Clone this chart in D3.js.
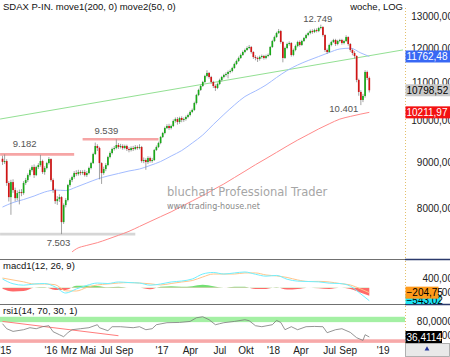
<!DOCTYPE html>
<html>
<head>
<meta charset="utf-8">
<script src="https://cdn.jsdelivr.net/npm/d3@7/dist/d3.min.js"></script>
<style>
html,body{margin:0;padding:0;background:#fff;overflow:hidden;}
svg{display:block;font-family:"Liberation Sans",Arial,sans-serif;}
</style>
</head>
<body>
<svg id="chart" width="450" height="357"></svg>
<script>
// ================= DATA =================
const firstDate = "2015-07-24";   // first weekly candle (Friday)
const firstOpen = 9080;
const closes = [
 9010,9028,8540,8240,8560,8389,8220,8325,8347,8325,
 8540,8604,8713,8825,8892,8713,8892,8937,9028,8780,
 8870,8982,9074,8604,8389,8158,8200,8241,7736,8076,
 8179,8496,8604,8669,8758,8735,8780,8758,8780,8713,
 8758,8870,8982,9189,9378,9330,8982,8758,8847,8937,
 9120,9213,9307,9330,9402,9354,9378,9330,9378,9307,
 9283,9330,9307,9354,9330,9354,9028,9051,9005,9097,
 9028,9051,9283,9354,9449,9594,9692,9815,9865,9815,
 9865,9991,10041,9966,10067,10016,10041,10093,10144,10222,
 10274,10456,10671,10807,10916,11028,11197,11282,11168,11028,
 10916,10862,10972,11084,11168,11225,11253,11310,11339,11425,
 11541,11630,11718,11807,11897,11957,12018,12049,11897,11747,
 11718,11688,11747,11777,11718,11777,11807,12049,12232,12356,
 12482,12545,12202,11718,12018,12140,12171,11807,11957,12079,
 12202,12110,12232,12325,12419,12482,12545,12514,12577,12545,
 12641,12673,12419,11957,11897,12110,12202,12263,12140,12232,
 12263,12171,12232,12356,12140,11957,11867,11777,11084,10752,
 10537,10644,11310,11140,10798.52
];
const highs = [
 9150,9182,9070,8580,8610,8620,8440,8380,8400,8410,
 8580,8650,8750,8860,8930,8950,8920,8980,9170,9060,
 8910,9010,9120,9090,8640,8420,8260,8300,8260,8110,
 8220,8520,8640,8700,8800,8820,8830,8820,8820,8830,
 8800,8900,9010,9220,9460,9420,9360,9000,8900,8980,
 9150,9250,9340,9380,9539,9450,9430,9420,9410,9410,
 9350,9370,9380,9400,9390,9420,9380,9110,9090,9140,
 9130,9100,9310,9390,9480,9620,9720,9850,9910,9920,
 9900,10030,10080,10090,10100,10110,10080,10130,10180,10260,
 10310,10490,10700,10840,10950,11060,11230,11360,11310,11200,
 11060,10960,11010,11120,11200,11260,11300,11350,11380,11460,
 11580,11670,11760,11850,11940,12000,12070,12110,12080,11920,
 11800,11760,11790,11820,11810,11820,11850,12080,12270,12400,
 12520,12610,12580,12230,12060,12180,12220,12200,12000,12120,
 12240,12250,12270,12360,12460,12520,12590,12600,12620,12630,
 12680,12749,12700,12440,12000,12150,12240,12300,12300,12270,
 12300,12300,12270,12410,12380,12170,12000,11920,11800,11120,
 10800,10700,11360,11350,11180
];
const lows = [
 8940,8960,8480,8150,7880,8330,8150,8170,8090,8260,
 8290,8500,8560,8680,8790,8650,8690,8850,8900,8740,
 8720,8840,8950,8570,8330,8100,8080,8140,7503,7700,
 8030,8150,8460,8560,8630,8690,8700,8710,8720,8680,
 8670,8730,8840,8960,9170,9260,8620,8520,8720,8800,
 8910,9090,9180,9270,9300,9310,9320,9290,9300,9260,
 9230,9250,9260,9280,9290,9300,8990,8980,8830,8960,
 8990,8990,9030,9260,9330,9420,9570,9660,9790,9770,
 9780,9840,9950,9900,9920,9960,9970,10000,10060,10110,
 10190,10250,10420,10640,10780,10890,11000,11160,11120,10980,
 10860,10780,10830,10940,11040,11130,11180,11130,11270,11300,
 11400,11510,11600,11690,11780,11860,11930,11980,11850,11690,
 11650,11600,11640,11700,11670,11680,11740,11780,12020,12200,
 12330,12450,12150,11590,11690,11980,12090,11760,11770,11920,
 12040,12060,12080,12200,12290,12380,12440,12460,12480,12500,
 12510,12600,12370,11900,11840,11870,12070,12170,12080,12100,
 12190,12120,12130,12200,12090,11900,11800,11700,11020,10650,
 10401,10480,10600,11080,10740
];
// moving averages, read at candle indices
const maIdx = [0,5,10,15,20,25,30,35,40,45,50,55,60,65,70,75,80,85,90,95,100,105,110,115,120,125,130,135,140,145,150,155,160,165,170,174];
const ma50 = [8036,8128,8190,8263,8347,8389,8379,8453,8540,8627,8693,8748,8804,8848,8927,9017,9143,9271,9449,9643,9902,10156,10403,10629,10778,10943,11153,11352,11512,11643,11762,11882,11988,12012,11867,11762.48];
const ma200Idx = [33,35,40,45,50,55,60,65,70,75,80,85,90,95,100,105,110,115,120,125,130,135,140,145,150,155,160,165,170,174];
const ma200 = [7174,7229,7293,7343,7410,7481,7557,7651,7747,7843,7939,8050,8161,8272,8397,8519,8658,8799,8945,9084,9228,9376,9520,9655,9793,9920,10038,10107,10168,10211.97];
// MACD (12,26,9) read at maIdx
const macdLine   = [370,170,110,160,180,35,-220,-50,100,200,180,245,220,200,110,160,245,285,370,580,645,580,625,665,570,490,520,360,280,265,250,195,180,70,-260,-543.02];
const signalLine = [410,330,250,160,160,130,-130,-135,15,120,160,200,220,200,170,120,180,245,305,455,580,580,580,625,625,540,500,435,330,265,270,245,180,120,-50,-204.75];
// RSI (14)
const rsiIdx  = [0,2,5,10,13,16,19,22,24,27,29,31,33,37,41,45,46,50,52,56,62,65,68,71,73,78,84,89,92,95,98,101,103,105,110,115,117,120,123,128,130,132,134,137,140,144,148,152,154,158,161,165,168,171,172,174];
const rsiVals = [73.6,59.6,52.1,56.8,62.4,59.6,65.2,68,51.2,42.8,37.2,48.4,56.8,59.6,62.4,70.8,62.4,54,65.2,65.2,62.4,65.2,56.8,59.6,70.8,76.4,77.2,80,90.3,93.1,84.8,70.8,73.6,76.4,80,84.8,82,68,65.2,70.8,82.8,77.2,56.8,65.2,56.8,65.2,66,65.2,48.4,56.8,59.6,49.3,34.4,26.9,42.8,36.4114];
const rsiTrendIdx = [0,55];
const rsiTrendVals = [80,40];
const rsiUpperZone = [78,93];
const rsiLowerZone = [20,30];
// drawn trend line and horizontal levels
const trendDates = ["2015-07-16","2019-03-15"];
const trendVals = [10040,11960];
const levelVals  = [9182,9539,7503];
const levelFrom  = ["2015-07-16","2016-04-15","2015-07-16"];
const levelTo    = ["2016-03-18","2016-12-23","2016-10-07"];
// annotations
const annoText  = ["9.182","9.539","7.503","12.749","10.401"];
const annoIdx   = [1,54,28,151,170];
const annoVals  = [9182,9539,7503,12749,10401];
// axis ticks
const priceTicks = [13000,12000,11000,10000,9000,8000];
const macdTicks = [400,-200];
const rsiTicks = [80,40];
const xTickDates  = ["2015-08-01","2016-01-01","2016-03-01","2016-05-03","2016-07-02","2016-09-01","2017-01-04","2017-04-08","2017-07-15","2017-10-10","2018-01-09","2018-04-10","2018-07-14","2018-09-14","2019-01-08"];
const xTickLabels = ["'15","'16","Mrz","Mai","Jul","Sep","'17","Apr","Jul","Okt","'18","Apr","Jul","Sep","'19"];

// ================= CHART =================
const svg = d3.select("#chart");
const parse = d3.timeParse("%Y-%m-%d");
const start = parse(firstDate);
const dates = closes.map((_, i) => d3.timeDay.offset(start, 7 * i));
const plotR = 405;
const M = {top: 0, bot: 259}, MC = {top: 260, bot: 304}, RS = {top: 305, bot: 343};

const x = d3.scaleTime().domain([dates[0], dates[dates.length - 1]]).range([2.5, 369.3]);
const y = d3.scaleLog().domain([7046, 13570]).range([M.bot, M.top]);
const yM = d3.scaleLinear().domain([-682, 1170]).range([MC.bot, MC.top]);
const yR = d3.scaleLinear().domain([14, 126]).range([345, 305]);
const deF = (n, d) => d3.format("." + d + "f")(n).replace(".", ",");

const defs = svg.append("defs");
function clip(id, y0, y1) {
  defs.append("clipPath").attr("id", id).append("rect")
    .attr("x", 0).attr("y", y0).attr("width", plotR).attr("height", y1 - y0);
}
clip("cMain", M.top, M.bot); clip("cMacd", MC.top, MC.bot); clip("cRsi", RS.top, RS.bot);
clip("cPos", MC.top, yM(0)); clip("cNeg", yM(0), MC.bot);

svg.append("rect").attr("width", 450).attr("height", 357).attr("fill", "#fff");

// ---- main panel ----
const gM = svg.append("g").attr("clip-path", "url(#cMain)");
const levelColors = ["#f6a5a5", "#f6a5a5", "#d6d6d6"];
levelVals.forEach((v, k) => {
  gM.append("line").attr("x1", x(parse(levelFrom[k]))).attr("x2", x(parse(levelTo[k])))
    .attr("y1", y(v)).attr("y2", y(v)).attr("stroke", levelColors[k]).attr("stroke-width", 2.6);
});
gM.append("line").attr("x1", x(parse(trendDates[0]))).attr("x2", x(parse(trendDates[1])))
  .attr("y1", y(trendVals[0])).attr("y2", y(trendVals[1]))
  .attr("stroke", "#93e093").attr("stroke-width", 1);
const maLine = d3.line().curve(d3.curveMonotoneX);
gM.append("path").attr("d", maLine(ma200Idx.map((k, j) => [x(dates[k]), y(ma200[j])])))
  .attr("fill", "none").attr("stroke", "#ff8a8a").attr("stroke-width", 1);
gM.append("path").attr("d", maLine(maIdx.map((k, j) => [x(dates[k]), y(ma50[j])])))
  .attr("fill", "none").attr("stroke", "#a3bcff").attr("stroke-width", 1);

gM.append("text").attr("x", 167).attr("y", 196).text("bluchart Professional Trader")
  .attr("font-family", "DejaVu Sans").attr("font-size", 11.5).attr("fill", "#a6a6a6");
gM.append("text").attr("x", 167).attr("y", 208.5).text("www.trading-house.net")
  .attr("font-family", "DejaVu Sans").attr("font-size", 8).attr("fill", "#8a8a8a");

const opens = closes.map((c, i) => i === 0 ? firstOpen : closes[i - 1]);
const cg = gM.append("g");
cg.selectAll("line.w").data(closes).join("line").attr("class", "w")
  .attr("x1", (d, i) => x(dates[i])).attr("x2", (d, i) => x(dates[i]))
  .attr("y1", (d, i) => y(highs[i])).attr("y2", (d, i) => y(lows[i]))
  .attr("stroke", "#8c8c8c").attr("stroke-width", 0.8);
cg.selectAll("rect.b").data(closes).join("rect").attr("class", "b")
  .attr("x", (d, i) => x(dates[i]) - 0.85).attr("width", 1.7)
  .attr("y", (d, i) => y(Math.max(opens[i], d)))
  .attr("height", (d, i) => Math.max(1, Math.abs(y(opens[i]) - y(d))))
  .attr("fill", (d, i) => d >= opens[i] ? "#1aa81a" : "#d01414");

const annoDx = [20, -10, -3, -3, -17];
const annoDy = [-7, -5, 12, -3, 6.5];
annoText.forEach((t, k) => {
  gM.append("text").attr("x", x(dates[annoIdx[k]]) + annoDx[k]).attr("y", y(annoVals[k]) + annoDy[k])
    .attr("text-anchor", "middle").attr("font-size", 9.5).attr("fill", "#555").text(t);
});

svg.append("text").attr("x", 3).attr("y", 10).attr("font-size", 9.5).attr("fill", "#111")
  .text("SDAX P-IN. move1(200, 0) move2(50, 0)");
svg.append("text").attr("x", 403).attr("y", 10).attr("font-size", 9.5).attr("fill", "#111")
  .attr("text-anchor", "end").text("woche, LOG");

// ---- MACD panel ----
const gC = svg.append("g").attr("clip-path", "url(#cMacd)");
const hist = maIdx.map((k, j) => [x(dates[k]), macdLine[j] - signalLine[j]]);
const hArea = d3.area().curve(d3.curveMonotoneX).x(d => d[0]).y0(yM(0)).y1(d => yM(d[1]));
gC.append("g").attr("clip-path", "url(#cPos)").append("path").attr("d", hArea(hist)).attr("fill", "#72e072");
gC.append("g").attr("clip-path", "url(#cNeg)").append("path").attr("d", hArea(hist)).attr("fill", "#ff6a6a");
const lM = d3.line().curve(d3.curveMonotoneX);
gC.append("path").attr("d", lM(maIdx.map((k, j) => [x(dates[k]), yM(signalLine[j])])))
  .attr("fill", "none").attr("stroke", "#ffc58a").attr("stroke-width", 1);
gC.append("path").attr("d", lM(maIdx.map((k, j) => [x(dates[k]), yM(macdLine[j])])))
  .attr("fill", "none").attr("stroke", "#6ff0ff").attr("stroke-width", 1);
svg.append("text").attr("x", 3).attr("y", 269).attr("font-size", 9.5).attr("fill", "#111").text("macd1(12, 26, 9)");

// ---- RSI panel ----
const gR = svg.append("g").attr("clip-path", "url(#cRsi)");
gR.append("rect").attr("x", 0).attr("width", plotR).attr("y", yR(rsiUpperZone[1]))
  .attr("height", yR(rsiUpperZone[0]) - yR(rsiUpperZone[1])).attr("fill", "#a4f0a4");
gR.append("rect").attr("x", 0).attr("width", plotR).attr("y", yR(rsiLowerZone[1]))
  .attr("height", yR(rsiLowerZone[0]) - yR(rsiLowerZone[1])).attr("fill", "#f7a9a9");
gR.append("path").attr("d", d3.line()(rsiTrendIdx.map((k, j) => [x(dates[k]), yR(rsiTrendVals[j])])))
  .attr("stroke", "#ff7c7c").attr("stroke-width", 1).attr("fill", "none");
gR.append("path").attr("d", d3.line()(rsiIdx.map((k, j) => [x(dates[k]), yR(rsiVals[j])])))
  .attr("stroke", "#7a7a7a").attr("stroke-width", 0.8).attr("fill", "none");
svg.append("text").attr("x", 3).attr("y", 314).attr("font-size", 9.5).attr("fill", "#111").text("rsi1(14, 70, 30, 1)");

// ---- separators & right axis ----
[259.5, 304.5].forEach(yy => {
  svg.append("line").attr("x1", 0).attr("x2", plotR).attr("y1", yy).attr("y2", yy).attr("stroke", "#707070");
  svg.append("line").attr("x1", plotR).attr("x2", 450).attr("y1", yy).attr("y2", yy).attr("stroke", "#2b3a6b").attr("stroke-width", 1.4);
});
[[M.top + 8, M.bot], [MC.top + 1, MC.bot], [RS.top + 1, RS.bot]].forEach(([a, b]) => {
  svg.append("line").attr("x1", plotR + 0.5).attr("x2", plotR + 0.5).attr("y1", a).attr("y2", b)
    .attr("stroke", "#e3c06a").attr("stroke-dasharray", "1,2");
});
const axT = (yy, t) => svg.append("text").attr("x", 453).attr("y", yy + 3.5).attr("text-anchor", "end")
  .attr("font-size", 10).attr("fill", "#222").text(t);
priceTicks.forEach(v => axT(y(v), deF(v, 2)));
macdTicks.forEach(v => axT(yM(v), deF(v, 2)));
rsiTicks.forEach(v => axT(yR(v), deF(v, 4)));

function box(yy, t, fill, col, w, y0, y1) {
  let top = yy - 6, bot = yy + 6;
  if (y1 !== undefined) { top = Math.max(top, y0); bot = Math.min(bot, y1); }
  svg.append("rect").attr("x", 405.5).attr("y", top).attr("width", w).attr("height", bot - top).attr("fill", fill);
  const g = svg.append("g");
  if (y1 !== undefined) {
    const id = "bc" + Math.round(yy * 10);
    defs.append("clipPath").attr("id", id).append("rect").attr("x", 405).attr("y", top).attr("width", 46).attr("height", bot - top);
    g.attr("clip-path", "url(#" + id + ")");
  }
  g.append("text").attr("x", 406.5).attr("y", yy + 3.6).attr("font-size", 10).attr("fill", col).text(t);
}
box(y(ma50[ma50.length - 1]), deF(ma50[ma50.length - 1], 2), "#3868f4", "#fff", 44.5);
box(y(closes[closes.length - 1]), deF(closes[closes.length - 1], 2), "#c9c9c9", "#000", 44.5);
box(y(ma200[ma200.length - 1]), deF(ma200[ma200.length - 1], 2), "#f31212", "#fff", 44.5);
box(yM(macdLine[macdLine.length - 1]), deF(macdLine[macdLine.length - 1], 2), "#1fe3f5", "#000", 35, MC.top, MC.bot);
box(yM(signalLine[signalLine.length - 1]), deF(signalLine[signalLine.length - 1], 2), "#ff9a1a", "#000", 33, MC.top, MC.bot);
box(yR(rsiVals[rsiVals.length - 1]), deF(rsiVals[rsiVals.length - 1], 4), "#000", "#fff", 36.5);

// ---- x axis ----
xTickDates.forEach((d, k) => {
  svg.append("text").attr("x", x(parse(d))).attr("y", 354).attr("text-anchor", "middle")
    .attr("font-size", 10).attr("fill", "#222").text(xTickLabels[k]);
});
svg.append("rect").attr("x", 405.5).attr("y", 343.5).attr("width", 44).attr("height", 13)
  .attr("fill", "#e9e9e9").attr("stroke", "#a0a0a0").attr("stroke-width", 0.8);
svg.append("path").attr("d", d3.symbol(d3.symbolTriangle, 10)()).attr("transform", "translate(427,349)").attr("fill", "#223399");
</script>
</body>
</html>
